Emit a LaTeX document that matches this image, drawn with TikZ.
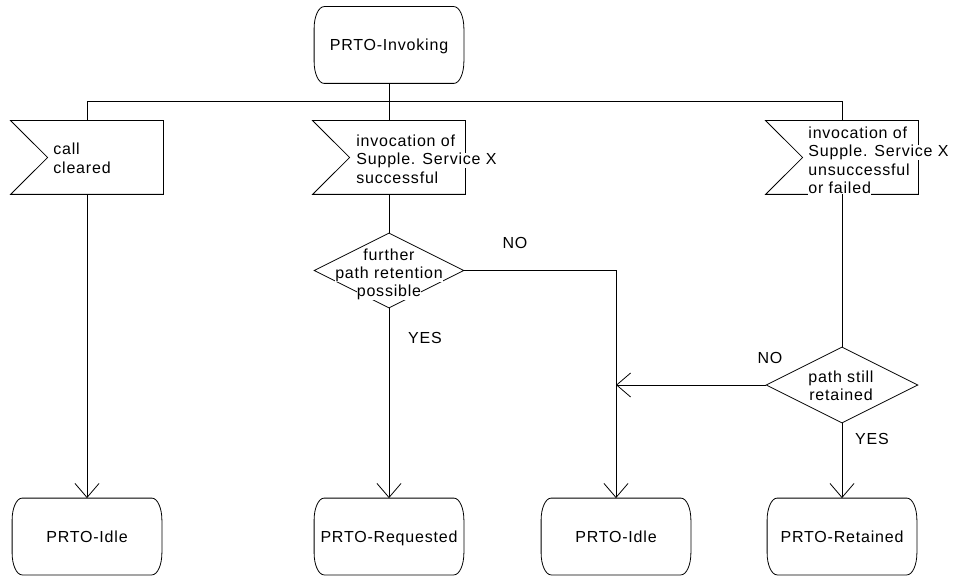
\documentclass[tikz,border=0pt]{standalone}
\usepackage{fontspec}
\setmainfont{Liberation Sans}[LetterSpace=5.0]
\usetikzlibrary{arrows.meta,calc,shapes.geometric}
\newcommand\wb[1]{{\fboxsep=0pt\colorbox{white}{\vphantom{Ag}#1}}}
\newcommand\drawstate[1]{%
  \draw ($(#1.north west)+(10,0)$) -- ($(#1.north east)+(-10,0)$)
    arc[start angle=90,end angle=0,x radius=10pt,y radius=22pt]
    -- ($(#1.south east)+(0,-22)$)
    arc[start angle=0,end angle=-90,x radius=10pt,y radius=22pt]
    -- ($(#1.south west)+(10,0)$)
    arc[start angle=270,end angle=180,x radius=10pt,y radius=22pt]
    -- ($(#1.north west)+(0,22)$)
    arc[start angle=180,end angle=90,x radius=10pt,y radius=22pt] -- cycle;}
\newcommand\drawinput[1]{%
  \draw (#1.north west) -- (#1.north east) -- (#1.south east) -- (#1.south west)
    -- ($(#1.west)+(37,0)$) -- cycle;}
\begin{document}
\begin{tikzpicture}[x=1pt,y=-1pt,line width=0.8pt,
  txt/.style={font=\fontsize{16}{18.3}\selectfont},
  statebox/.style={txt,draw=none,minimum width=149pt,minimum height=76pt,inner sep=0pt,
    text height=12pt,text depth=0pt},
  inbox/.style={draw=none,minimum width=152pt,minimum height=73pt,inner sep=0pt},
  lbl/.style={txt,inner sep=0pt,align=left,anchor=base west},
  ctr/.style={txt,inner sep=0pt,align=center,anchor=base},
  dec/.style={draw,diamond,minimum width=150pt,minimum height=75pt,inner sep=0pt},
  flow/.style={-{Straight Barb[length=14pt,width=24pt]}}]
\useasboundingbox (0,0) rectangle (957,577);
% states
\node[statebox] (inv) at (389,45) {PRTO-Invoking};
\node[statebox] (idle1) at (87,536.5) {PRTO-Idle};
\node[statebox] (req) at (389,536.5) {PRTO-Requested};
\node[statebox] (idle2) at (616,536.5) {PRTO-Idle};
\node[statebox] (ret) at (842,536.5) {PRTO-Retained};
\drawstate{inv}\drawstate{idle1}\drawstate{req}\drawstate{idle2}\drawstate{ret}
% inputs
\node[inbox] (in1) at (87,157.5) {};
\node[inbox] (in2) at (389,157.5) {};
\node[inbox] (in3) at (842,157.5) {};
\drawinput{in1}\drawinput{in2}\drawinput{in3}
\node[lbl] (t1) at (53,173.3) {\wb{call}\\\wb{cleared}};
\node[lbl] (t2) at (356,183.1) {\wb{invocation of}\\\wb{Supple. Service X}\\\wb{successful}};
\node[lbl] (t3) at (808,193.4) {\wb{invocation of}\\\wb{Supple. Service X}\\\wb{unsuccessful}\\\wb{or failed}};
% decisions
\node[dec] (d1) at (389,270.5) {};
\node[ctr] (dt1) at (389,296.6) {\wb{further}\\\wb{path retention}\\\wb{possible}};
\node[dec,minimum width=152pt,minimum height=76pt] (d2) at (842,385) {};
\node[ctr] (dt2) at (841,400.8) {\wb{path still}\\\wb{retained}};
% labels
\node[ctr] (no1) at (515,248) {NO};
\node[ctr] (yes1) at (425,343) {YES};
\node[ctr] (no2) at (770,363) {NO};
\node[ctr] (yes2) at (872,444) {YES};
% connectors
\coordinate (bus) at (0,101);
\draw (inv.south) -- (in2.north);
\draw (in1.north) -- (in1.north |- bus) -- (in3.north |- bus) -- (in3.north);
\draw[flow] (in1.south) -- (idle1.north);
\draw (in2.south) -- (d1.north);
\draw[flow] (d1.south) -- (req.north);
\draw[flow] (d1.east) -| (idle2.north);
\draw (in3.south) -- (d2.north);
\draw[flow] (d2.west) -- (d2.west -| idle2.north);
\draw[flow] (d2.south) -- (ret.north);
\end{tikzpicture}
\end{document}
